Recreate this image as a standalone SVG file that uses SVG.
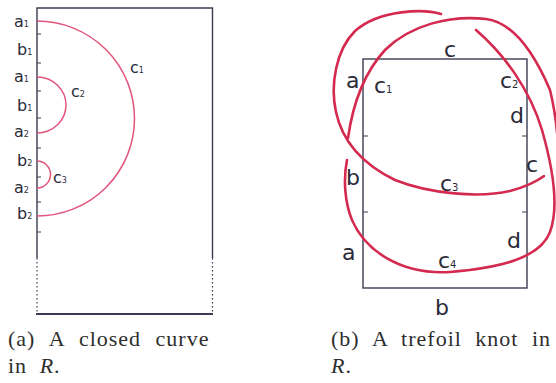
<svg xmlns="http://www.w3.org/2000/svg" width="556" height="383" viewBox="0 0 556 383">
<style>
.frame{fill:none;stroke:#3a3d52;stroke-width:1.4}
.dot{fill:none;stroke:#3a3d52;stroke-width:1.2;stroke-dasharray:1.5 2.5}
.tick{stroke:#3a3d52;stroke-width:1.2}
.pink{fill:none;stroke:#e2557c;stroke-width:1.5}
.knot{fill:none;stroke:#d42a50;stroke-width:2.6;stroke-linecap:round}
.lbl{font-family:"DejaVu Sans","Liberation Sans",sans-serif;fill:#2a2a38}
.s{font-size:16px}
.l{font-size:22px}
.sub{font-size:8px}
.subl{font-size:10px}
.cap{font-family:"Liberation Serif","DejaVu Serif",serif;font-size:22px;fill:#2e2e2e;letter-spacing:1px}
</style>
<rect width="556" height="383" fill="#ffffff"/>
<g id="panel-a">
  <path class="frame" d="M37,258 V8 H212.5 V258"/>
  <path class="dot" d="M37,258 V312 M212.5,258 V312"/>
  <path class="frame" d="M36,314 H213" style="stroke-width:2"/>
  <g class="tick">
    <path d="M37,34 H41 M37,63 H41 M37,91 H41 M37,118 H41 M37,148 H41 M37,177 H41 M37,202 H41 M37,232 H41"/>
  </g>
</g>
<g id="curves-a">
  <path id="c1" class="pink" d="M37,21 A97.5,97.5 0 0 1 37,216"/>
  <path id="c2" class="pink" d="M37,77 A29,28 0 0 1 37,133"/>
  <path id="c3" class="pink" d="M37,161 A13.5,13.5 0 0 1 37,188"/>
</g>
<g id="labels-a" class="lbl s">
  <text x="14" y="27">a<tspan class="sub">1</tspan></text>
  <text x="17" y="55">b<tspan class="sub">1</tspan></text>
  <text x="14" y="82">a<tspan class="sub">1</tspan></text>
  <text x="17" y="111">b<tspan class="sub">1</tspan></text>
  <text x="14" y="137">a<tspan class="sub">2</tspan></text>
  <text x="17" y="166">b<tspan class="sub">2</tspan></text>
  <text x="14" y="193">a<tspan class="sub">2</tspan></text>
  <text x="17" y="219">b<tspan class="sub">2</tspan></text>
  <text x="130" y="73">c<tspan class="sub">1</tspan></text>
  <text x="71" y="97">c<tspan class="sub">2</tspan></text>
  <text x="53" y="183">c<tspan class="sub">3</tspan></text>
</g>
<g id="panel-b">
  <rect class="frame" x="363" y="59" width="164" height="229"/>
  <path class="tick" d="M363,136 H368 M363,212 H368 M527,136 H522 M527,212 H522"/>
</g>
<g id="knot">
  <path id="strand1" class="knot" d="M441,14 C425,9 380,9 355,31 C336,50 330,85 336,112 C342,140 360,163 395,180 C430,194 480,198 510,191 C525,187 536,182 544,176"/>
  <path id="strand2" class="knot" d="M348,138 C352,110 362,75 385,50 C410,25 450,15 486,19 C510,22 532,48 550,90 C555,110 558,135 559,160"/>
  <path id="strand3" class="knot" d="M476,30 C505,55 530,90 542,130 C552,165 560,205 550,232 C540,258 500,268 450,272 C400,275 365,250 352,220 C345,203 343,180 347,160"/>
</g>
<g id="labels-b" class="lbl l">
  <text x="444" y="57">c</text>
  <text x="346" y="88">a</text>
  <text x="374" y="93">c<tspan class="subl">1</tspan></text>
  <text x="500" y="88">c<tspan class="subl">2</tspan></text>
  <text x="510" y="123">d</text>
  <text x="526" y="172">c</text>
  <text x="346" y="185">b</text>
  <text x="440" y="191">c<tspan class="subl">3</tspan></text>
  <text x="342" y="260">a</text>
  <text x="507" y="248">d</text>
  <text x="438" y="268">c<tspan class="subl">4</tspan></text>
  <text x="435" y="315">b</text>
</g>
<g id="captions" class="cap">
  <text x="8" y="346" word-spacing="8">(a) A closed curve</text>
  <text x="8" y="373" word-spacing="6">in <tspan font-style="italic">R</tspan>.</text>
  <text x="331" y="346" word-spacing="7">(b) A trefoil knot in</text>
  <text x="331" y="373"><tspan font-style="italic">R</tspan>.</text>
</g>
</svg>
